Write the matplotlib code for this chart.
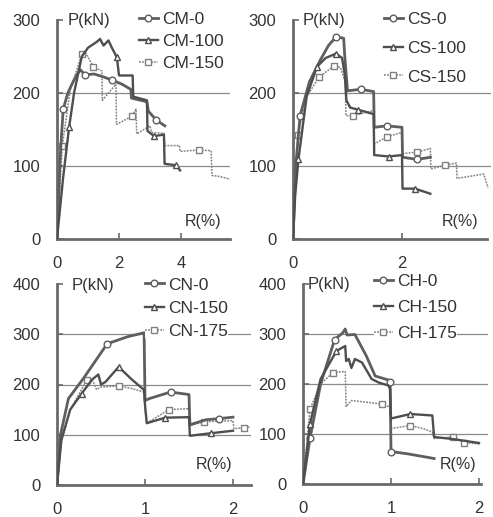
import matplotlib
matplotlib.use("Agg")
import matplotlib.pyplot as plt

plt.rcParams['font.family'] = ['Liberation Sans', 'DejaVu Sans']

# ---------------- data ----------------
# Panel CM
cm0_x = [0, 0.1, 0.2, 0.35, 0.47, 0.6, 0.75, 0.9, 1.2, 1.5, 1.76, 2.1, 2.38, 2.4, 2.9, 2.95, 3.2, 3.48]
cm0_y = [0, 110, 178, 200, 211, 222, 232, 225, 226, 222, 218, 212, 205, 193, 188, 175, 163, 155]
cm100_x = [0, 0.2, 0.39, 0.55, 0.8, 1.0, 1.28, 1.39, 1.5, 1.66, 1.77, 1.93, 1.97, 2.0, 2.44, 2.46, 2.9, 2.92, 3.13, 3.45, 3.47, 3.84, 3.97]
cm100_y = [0, 85, 153, 200, 250, 262, 270, 274, 265, 272, 262, 249, 235, 224, 224, 195, 190, 148, 141, 143, 103, 101, 94]
cm150_x = [0, 0.17, 0.42, 0.8, 0.9, 1.17, 1.45, 1.46, 1.9, 1.92, 2.41, 2.55, 2.57, 3.0, 3.05, 3.45, 3.48, 3.95, 3.97, 4.59, 4.97, 5.0, 5.2, 5.4, 5.58]
cm150_y = [0, 127, 203, 253, 257, 236, 230, 190, 212, 157, 168, 178, 144, 155, 146, 145, 128, 128, 120, 122, 121, 87, 86, 84, 82]

# Panel CS
cs0_x = [0, 0.05, 0.13, 0.3, 0.5, 0.65, 0.79, 0.93, 0.95, 1.0, 1.24, 1.48, 1.49, 1.72, 2.0, 2.01, 2.28, 2.52]
cs0_y = [0, 100, 169, 215, 245, 265, 277, 275, 250, 203, 205, 202, 153, 155, 153, 112, 109, 112]
cs100_x = [0, 0.04, 0.1, 0.25, 0.44, 0.6, 0.79, 0.9, 0.95, 0.98, 1.05, 1.2, 1.48, 1.49, 1.76, 2.0, 2.01, 2.24, 2.52]
cs100_y = [0, 60, 109, 195, 236, 248, 254, 248, 225, 190, 180, 177, 171, 115, 113, 115, 69, 69, 62]
cs150_x = [0, 0.09, 0.25, 0.48, 0.75, 0.87, 0.96, 0.97, 1.1, 1.48, 1.49, 1.72, 2.0, 2.01, 2.28, 2.52, 2.53, 2.78, 3.0, 3.01, 3.5, 3.58]
cs150_y = [0, 142, 195, 222, 237, 235, 215, 169, 169, 176, 130, 140, 146, 117, 119, 124, 96, 101, 104, 83, 89, 70]

# Panel CN
cn0_x = [0, 0.04, 0.13, 0.3, 0.57, 0.8, 0.99, 1.0, 1.05, 1.29, 1.5, 1.51, 1.7, 1.84, 2.0]
cn0_y = [0, 100, 172, 212, 281, 295, 303, 168, 172, 185, 180, 120, 130, 132, 135]
cn150_x = [0, 0.05, 0.15, 0.28, 0.4, 0.47, 0.5, 0.55, 0.7, 0.85, 0.99, 1.0, 1.02, 1.23, 1.5, 1.51, 1.75, 2.0]
cn150_y = [0, 90, 150, 182, 210, 220, 200, 205, 235, 210, 189, 160, 123, 134, 135, 98, 103, 108]
cn175_x = [0, 0.05, 0.15, 0.34, 0.4, 0.45, 0.5, 0.7, 0.85, 0.99, 1.0, 1.02, 1.27, 1.5, 1.51, 1.67, 2.0, 2.01, 2.13, 2.2]
cn175_y = [0, 85, 150, 209, 210, 190, 195, 197, 192, 185, 150, 123, 150, 152, 118, 126, 128, 112, 114, 116]

# Panel CH
ch0_x = [0, 0.08, 0.2, 0.36, 0.45, 0.48, 0.5, 0.59, 0.72, 0.82, 0.97, 0.99, 1.0, 1.2, 1.49]
ch0_y = [0, 92, 200, 289, 302, 310, 298, 299, 256, 216, 208, 205, 65, 60, 51]
ch150_x = [0, 0.08, 0.2, 0.38, 0.48, 0.49, 0.52, 0.55, 0.59, 0.67, 0.78, 0.86, 0.97, 0.99, 1.0, 1.22, 1.47, 1.49, 1.7, 2.0]
ch150_y = [0, 121, 210, 266, 276, 246, 250, 232, 250, 243, 210, 203, 197, 190, 131, 140, 137, 94, 90, 82]
ch175_x = [0, 0.08, 0.2, 0.34, 0.48, 0.49, 0.55, 0.9, 0.99, 1.0, 1.22, 1.36, 1.47, 1.49, 1.7, 1.83, 2.0]
ch175_y = [0, 150, 200, 223, 225, 155, 167, 160, 154, 111, 117, 111, 104, 91, 94, 83, 80]

labels_cm = ['CM-0', 'CM-100', 'CM-150']
labels_cs = ['CS-0', 'CS-100', 'CS-150']
labels_cn = ['CN-0', 'CN-150', 'CN-175']
labels_ch = ['CH-0', 'CH-150', 'CH-175']

# ---------------- styling ----------------
W, H = 493, 517
fig = plt.figure(figsize=(W / 100, H / 100), dpi=100)

GRAY_AX = '#6a6a6a'
TXT = '#333333'
C0 = '#5e5e5e'
C1 = '#4e4e4e'
C2 = '#808080'
LEG_FS = 12.5


def px_axes(l, r, b, t):
    return fig.add_axes([l / W, 1 - b / H, (r - l) / W, (b - t) / H])


def style(ax, xlim, ylim, xticks, yticks, spine_end, grid_vals):
    ax.set_xlim(*xlim)
    ax.set_ylim(*ylim)
    for s in ['top', 'right']:
        ax.spines[s].set_visible(False)
    for s in ['left', 'bottom']:
        ax.spines[s].set_color(GRAY_AX)
        ax.spines[s].set_linewidth(2.0)
    ax.spines['bottom'].set_bounds(0, spine_end)
    ax.set_xticks(xticks)
    ax.set_yticks(yticks)
    ax.tick_params(direction='in', length=4, width=1.2, color=GRAY_AX,
                   labelsize=12, labelcolor=TXT)
    ax.tick_params(axis='y', pad=12)
    ax.tick_params(axis='x', pad=12)
    for g in grid_vals:
        ax.axhline(g, color='#8a8a8a', lw=0.9, zorder=0)


def draw(ax, xs, ys, labels, marks):
    ax.plot(xs[0], ys[0], color=C0, lw=2.0, marker='o', ms=4.8, mfc='white',
            mec=C0, mew=1.0, markevery=marks[0], label=labels[0], zorder=3)
    ax.plot(xs[1], ys[1], color=C1, lw=1.7, marker='^', ms=4.8, mfc='white',
            mec=C1, mew=1.0, markevery=marks[1], label=labels[1], zorder=3)
    ax.plot(xs[2], ys[2], color=C2, lw=1.1, ls=(0, (1.2, 0.8)), marker='s', ms=4.6,
            mfc='white', mec=C2, mew=1.0, markevery=marks[2], label=labels[2], zorder=2)


def make_leg(ax, spacing, anchor):
    lg = ax.legend(loc='upper left', bbox_to_anchor=anchor, bbox_transform=fig.transFigure,
                   frameon=True, fontsize=LEG_FS, handlelength=1.1, handletextpad=0.25,
                   labelspacing=spacing, borderpad=0.0, borderaxespad=0.0)
    lg.get_frame().set_facecolor('white')
    lg.get_frame().set_edgecolor('none')
    lg.get_frame().set_alpha(1.0)
    for t in lg.get_texts():
        t.set_color(TXT)
    lg.set_zorder(5)
    return lg


def leg(ax, text_left_px, first_center_px, row_px):
    fs_px = LEG_FS * 100 / 72
    lg = make_leg(ax, 0.0, (0.5, 0.5))
    fig.canvas.draw()
    r = fig.canvas.get_renderer()
    b0 = lg.get_texts()[0].get_window_extent(r)
    b1 = lg.get_texts()[1].get_window_extent(r)
    d0 = b0.y0 - b1.y0
    sp = max(0.0, (row_px - d0) / fs_px)
    lg.remove()
    lg = make_leg(ax, sp, (0.5, 0.5))
    fig.canvas.draw()
    lb = lg.get_window_extent(r)
    b0 = lg.get_texts()[0].get_window_extent(r)
    # offsets of first text relative to legend upper-left corner
    dx = b0.x0 - lb.x0
    dy = lb.y1 - (b0.y0 + b0.y1) / 2
    want_x = text_left_px - dx
    want_top = (H - first_center_px) + dy
    lg.remove()
    make_leg(ax, sp, (want_x / W, want_top / H))


def labels_pr(ax, px, py, rx, ry):
    ax.text(px, py, 'P(kN)', transform=ax.transAxes, fontsize=12, color=TXT,
            ha='left', va='center', zorder=6)
    ax.text(rx, ry, 'R(%)', transform=ax.transAxes, fontsize=11.5, color=TXT,
            ha='center', va='center', zorder=6)


# Top-left: CM
ax1 = px_axes(57, 57 + 31 * 5.58, 239, 20)
style(ax1, (0, 5.58), (0, 300), [0, 2, 4], [0, 100, 200, 300], 5.58, [100, 200])
draw(ax1, [cm0_x, cm100_x, cm150_x], [cm0_y, cm100_y, cm150_y], labels_cm,
     [[2, 7, 10, 16], [2, 11, 18, 21], [1, 3, 5, 10, 19]])
labels_pr(ax1, 0.064, 1.0, 0.845, 0.078)

# Top-right: CS
ax2 = px_axes(293, 293 + 54.5 * 3.64, 239, 20)
style(ax2, (0, 3.64), (0, 300), [0, 2], [0, 100, 200, 300], 3.56, [100, 200])
draw(ax2, [cs0_x, cs100_x, cs150_x], [cs0_y, cs100_y, cs150_y], labels_cs,
     [[2, 6, 10, 13, 16], [2, 4, 6, 11, 14, 17], [1, 3, 4, 8, 11, 14, 17]])
labels_pr(ax2, 0.05, 1.0, 0.84, 0.078)

# Bottom-left: CN
ax3 = px_axes(57, 57 + 88 * 2.2, 485, 284)
style(ax3, (0, 2.2), (0, 400), [0, 1, 2], [0, 100, 200, 300, 400], 2.2, [100, 200, 300])
draw(ax3, [cn0_x, cn150_x, cn175_x], [cn0_y, cn150_y, cn175_y], labels_cn,
     [[4, 9, 13], [3, 8, 13, 16], [3, 7, 12, 15, 18]])
labels_pr(ax3, 0.078, 0.995, 0.81, 0.1)

# Bottom-right: CH
ax4 = px_axes(303, 303 + 88 * 2.1, 484, 284)
style(ax4, (0, 2.1), (0, 400), [0, 1, 2], [0, 100, 200, 300, 400], 2.02, [100, 200, 300])
draw(ax4, [ch0_x, ch150_x, ch175_x], [ch0_y, ch150_y, ch175_y], labels_ch,
     [[1, 3, 11, 12], [1, 3, 15], [1, 3, 7, 10, 14, 15]])
labels_pr(ax4, 0.027, 1.0, 0.84, 0.095)

leg(ax1, 162, 20, 21.7)
leg(ax2, 407, 20, 28.5)
leg(ax3, 168, 285, 23.5)
leg(ax4, 397, 282, 26)

fig.savefig('out.png', dpi=100, facecolor='white')
